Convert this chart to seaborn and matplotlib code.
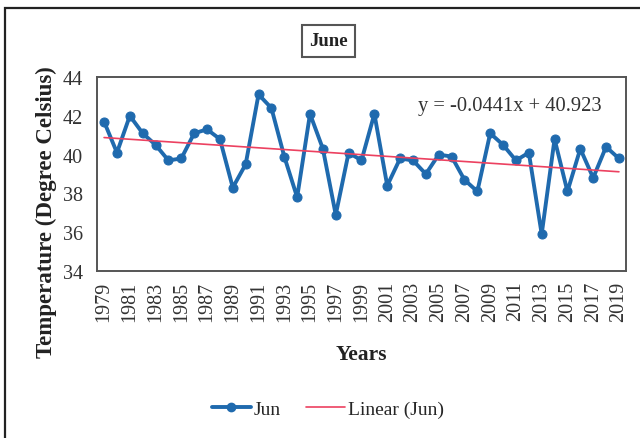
import numpy as np
import pandas as pd
import seaborn as sns
import matplotlib.pyplot as plt
from matplotlib.lines import Line2D
from matplotlib.patches import Rectangle

# June mean temperature
years = list(range(1979, 2020))
temps = [41.7, 40.1, 42.0, 41.1, 40.5, 39.7, 39.8, 41.1, 41.3, 40.8,
         38.3, 39.5, 43.1, 42.4, 39.9, 37.8, 42.1, 40.3, 36.9, 40.1,
         39.7, 42.1, 38.4, 39.8, 39.7, 39.0, 40.0, 39.9, 38.7, 38.1,
         41.1, 40.5, 39.7, 40.1, 35.9, 40.8, 38.1, 40.3, 38.8, 40.4,
         39.8]
slope = -0.0441
intercept = 40.923
ytick_vals = [34, 36, 38, 40, 42, 44]

df = pd.DataFrame({"Year": years, "Temp": temps})
df["Trend"] = slope * np.arange(1, len(years) + 1) + intercept

sns.set_theme(style="white")
plt.rcParams["font.family"] = ["Liberation Serif", "DejaVu Serif"]

blue = "#1F6AAE"
red = "#EC4160"

fig = plt.figure(figsize=(6.4, 4.39), dpi=100)
ax = fig.add_axes([97 / 640, 1 - 272 / 439, 529 / 640, 194 / 439])

sns.lineplot(data=df, x="Year", y="Temp", ax=ax, color=blue, linewidth=2.8,
             marker="o", markersize=6.5, markeredgecolor=blue)
sns.lineplot(data=df, x="Year", y="Trend", ax=ax, color=red, linewidth=1.2)

ax.set_xlim(1978.45, 2019.55)
ax.set_ylim(34, 44)
ax.set_yticks(ytick_vals)
ax.set_xticks(years[::2])
ax.set_xticklabels([str(y) for y in years[::2]], rotation=90)
ax.tick_params(axis="both", length=0, labelsize=14.5, colors="#333333")
ax.tick_params(axis="x", pad=7)
ax.tick_params(axis="y", pad=10)
for s in ax.spines.values():
    s.set_color("#555555")
    s.set_linewidth(1.4)

ax.set_xlabel("Years", fontsize=15.5, fontweight="bold", color="#222222")
ax.xaxis.set_label_coords(0.5, -0.375)
ax.set_ylabel("Temperature (Degree Celsius)", fontsize=16.5, fontweight="bold",
              color="#222222")
ax.yaxis.set_label_coords(-0.075, 0.31)

ax.text(2010.5, 42.55, "y = -0.0441x + 40.923", fontsize=14.8, color="#333333",
        ha="center", va="center")

fig.text(0.513, 1 - 42 / 439, "June", fontsize=13.5, fontweight="bold",
         ha="center", va="center", color="#222222",
         bbox=dict(boxstyle="square,pad=0.4", fc="white", ec="#555555", lw=1.5))

handles = [Line2D([], [], color=blue, lw=2.8, marker="o", markersize=6),
           Line2D([], [], color=red, lw=1.2)]
fig.legend(handles, ["Jun", "Linear (Jun)"], loc="center",
           bbox_to_anchor=(0.512, 1 - 410 / 439), ncol=2, frameon=False,
           fontsize=14, handlelength=2.0, handletextpad=0.15, columnspacing=1.3)

fig.patches.append(Rectangle((5 / 640, -0.1), 1.1, 1 - 9 / 439 + 0.1,
                             transform=fig.transFigure, fill=False,
                             ec="#222222", lw=1.6, clip_on=False))

fig.savefig("out.png", dpi=100)
